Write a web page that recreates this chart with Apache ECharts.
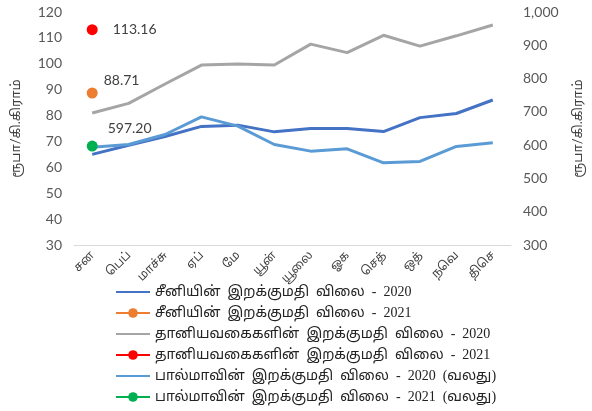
<!DOCTYPE html>
<html>
<head>
<meta charset="utf-8">
<script src="https://cdn.jsdelivr.net/npm/echarts@6/dist/echarts.min.js"></script>
<style>
  html, body { margin: 0; padding: 0; background: #fff; }
  #chart { width: 592px; height: 411px; }
</style>
</head>
<body>
<div id="chart"></div>
<script>
const months = ["சன", "பெப்", "மாச்சு", "ஏப்", "மே", "யூன்", "யூலை", "ஓக", "செத்", "ஒத்", "நவெ", "திசெ"];

const sugar2020 = [65.0, 68.5, 71.9, 75.8, 76.3, 73.7, 75.0, 75.0, 73.8, 79.2, 80.8, 86.0];
const sugar2021 = [88.71];
const cereal2020 = [81.0, 84.7, 92.2, 99.5, 99.9, 99.5, 107.6, 104.3, 111.0, 106.8, 110.8, 115.0];
const cereal2021 = [113.16];
const milk2020 = [594, 602, 632, 685, 657, 602, 582, 589, 547, 551, 596, 607];
const milk2021 = [597.20];

const seriesNames = [
  "சீனியின்  இறக்குமதி  விலை  -  2020",
  "சீனியின்  இறக்குமதி  விலை  -  2021",
  "தானியவகைகளின்  இறக்குமதி  விலை  -  2020",
  "தானியவகைகளின்  இறக்குமதி  விலை  -  2021",
  "பால்மாவின்  இறக்குமதி  விலை  -  2020  (வலது)",
  "பால்மாவின்  இறக்குமதி  விலை  -  2021  (வலது)",
];

const axisName = "ரூபா/கி.கிராம்";
const tamilFont = "'Liberation Serif', 'Noto Sans Tamil', sans-serif";
const tamilSans = "Lato, 'Noto Sans Tamil', sans-serif";
const tickFont = { color: "#595959", fontSize: 14, fontFamily: "Lato" };

function lineSeries(name, data, color, yAxisIndex) {
  return {
    name, type: "line", data, yAxisIndex,
    symbol: "none",
    lineStyle: { color, width: 3 },
    itemStyle: { color },
  };
}

function dotSeries(name, data, color, yAxisIndex, label) {
  return {
    name, type: "line", data, yAxisIndex,
    symbol: "circle", symbolSize: 11,
    lineStyle: { color, width: 3 },
    itemStyle: { color },
    label: Object.assign({
      show: true,
      color: "#404040",
      fontSize: 14,
      fontFamily: "Lato",
      formatter: (p) => p.value.toFixed(2),
    }, label),
  };
}

// line-only entries: hide the legend dot, keep the line
const legendData = seriesNames.map((name, i) =>
  i % 2 === 0 ? { name, itemStyle: { color: "rgba(0,0,0,0)", borderWidth: 0 } } : { name }
);

const chart = echarts.init(document.getElementById("chart"));
chart.setOption({
  animation: false,
  grid: { left: 74, right: 76, top: 12, bottom: 166 },
  legend: {
    orient: "vertical",
    left: 115,
    top: 285,
    padding: 0,
    itemWidth: 34,
    itemHeight: 12,
    itemGap: 7,
    textStyle: { color: "#222", fontSize: 14, fontFamily: tamilFont },
    data: legendData,
  },
  xAxis: {
    type: "category",
    data: months,
    axisLine: { lineStyle: { color: "#d9d9d9", width: 1 } },
    axisTick: { show: false },
    axisLabel: { rotate: 45, color: "#404040", fontSize: 12, fontFamily: tamilSans, margin: 8, interval: 0 },
  },
  yAxis: [
    {
      type: "value", min: 30, max: 120, interval: 10,
      name: axisName, nameLocation: "middle", nameRotate: 90, nameGap: 52,
      nameTextStyle: { color: "#404040", fontSize: 13, fontFamily: tamilSans },
      axisLine: { show: false }, axisTick: { show: false }, splitLine: { show: false },
      axisLabel: Object.assign({ margin: 12 }, tickFont),
    },
    {
      type: "value", min: 300, max: 1000, interval: 100, position: "right",
      name: axisName, nameLocation: "middle", nameRotate: 90, nameGap: 60,
      nameTextStyle: { color: "#404040", fontSize: 13, fontFamily: tamilSans },
      axisLine: { show: false }, axisTick: { show: false }, splitLine: { show: false },
      axisLabel: Object.assign({
        margin: 12,
        formatter: (v) => v.toLocaleString("en-US"),
      }, tickFont),
    },
  ],
  series: [
    lineSeries(seriesNames[0], sugar2020, "#4472C4", 0),
    dotSeries(seriesNames[1], sugar2021, "#ED7D31", 0, { position: "right", offset: [0, -13], distance: 6 }),
    lineSeries(seriesNames[2], cereal2020, "#A5A5A5", 0),
    dotSeries(seriesNames[3], cereal2021, "#FF0000", 0, { position: "right", distance: 15 }),
    lineSeries(seriesNames[4], milk2020, "#5B9BD5", 1),
    dotSeries(seriesNames[5], milk2021, "#00B050", 1, { position: "right", offset: [0, -18], distance: 10 }),
  ],
});
</script>
</body>
</html>
